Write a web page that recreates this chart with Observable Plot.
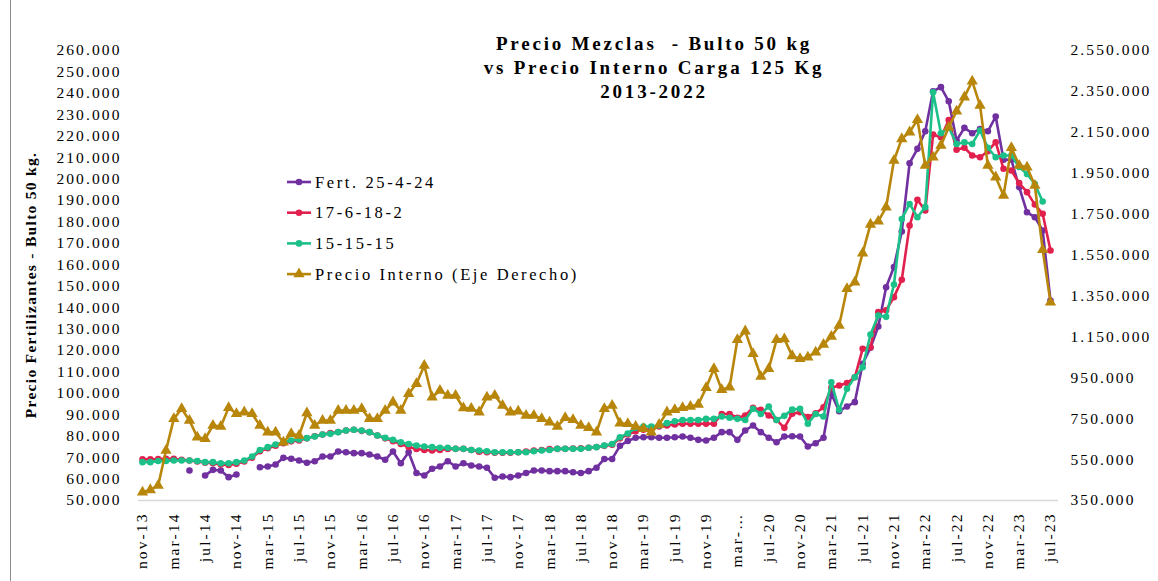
<!DOCTYPE html>
<html><head><meta charset="utf-8">
<script src="https://cdn.jsdelivr.net/npm/d3@7"></script>
<script src="https://cdn.jsdelivr.net/npm/@observablehq/plot@0.6"></script>
<style>
body{margin:0;background:#fff;}
#chart{position:relative;width:1158px;height:581px;}
</style></head><body><div id="chart"></div>
<script>
// ---- categories ----
const monthNames = ["ene","feb","mar","abr","may","jun","jul","ago","sep","oct","nov","dic"];
const months = [];
for (let k = 0; k < 117; k++) { const m = (10 + k) % 12; const y = 13 + Math.floor((10 + k) / 12); months.push(monthNames[m] + "-" + y); }
const tickMonths = months.filter((d, i) => i % 4 === 0);
const tickText = {"mar-20": "mar-…"};
const leftTicks = d3.range(50, 261, 10);          // thousands
const rightTicks = d3.range(350, 2551, 200);      // thousands

// ---- series (thousands of pesos) ----
const fert25424 = [
  null,null,null,null,null,null,64.0,null,61.7,64.3,64.0,60.9,
  62.1,null,null,65.5,65.9,66.8,69.9,69.5,68.7,67.6,68.3,70.5,
  70.5,72.9,72.5,72.1,72.1,71.5,70.5,69.0,72.9,67.4,72.5,62.8,
  61.7,64.8,65.9,68.3,65.9,67.4,66.3,65.9,65.3,60.6,61.2,60.9,
  61.7,62.8,64.0,64.0,63.7,63.7,63.7,63.2,62.8,63.7,65.3,69.4,
  69.4,75.5,77.8,79.3,79.5,79.5,79.3,79.3,79.5,79.9,79.3,78.3,
  78.0,79.3,81.9,81.9,78.3,82.7,85.0,81.9,79.3,77.2,79.9,80.0,
  79.9,75.2,76.7,79.3,99.8,91.7,93.9,95.9,113.8,121.3,131.2,149.5,
  159.0,175.5,207.4,214.1,222.3,241.0,242.9,236.3,218.0,223.9,221.4,223.4,
  222.3,229.2,209.0,209.0,196.2,184.5,182.2,176.0,143.3];
const f176182 = [
  69.2,69.2,69.3,69.5,69.5,69.0,68.7,68.2,67.6,67.4,66.8,66.6,
  67.2,68.2,70.0,73.0,74.4,75.6,76.7,77.6,78.0,79.0,80.0,80.8,
  81.5,82.0,82.7,83.0,82.5,81.9,80.3,79.0,77.7,76.4,75.0,74.0,
  73.6,73.3,73.6,74.0,74.1,74.1,73.6,72.8,72.5,72.3,72.3,72.3,
  72.5,72.8,73.3,73.6,74.0,74.1,74.1,74.3,74.4,74.6,75.0,75.5,
  76.0,79.0,80.8,82.3,83.0,83.4,84.5,85.0,85.5,85.8,85.8,85.8,
  85.8,85.8,90.4,90.4,88.6,89.7,93.3,92.3,89.7,87.6,83.9,90.5,
  91.2,88.9,90.7,93.5,102.6,103.7,104.8,107.5,120.8,121.5,137.9,138.8,
  144.9,153.0,178.3,190.3,185.3,220.8,219.5,227.6,213.7,214.6,211.0,210.2,
  213.0,217.2,204.8,204.0,198.1,193.9,188.1,183.8,166.7];
const f151515 = [
  67.9,67.9,68.4,68.4,68.7,68.7,68.7,68.4,67.9,67.9,67.4,67.4,
  67.9,68.7,70.5,73.6,74.9,76.1,77.2,78.0,78.5,79.1,79.9,80.8,
  81.1,81.9,82.7,83.0,82.7,81.9,80.3,79.3,78.3,77.2,76.4,75.7,
  75.2,74.9,74.6,74.6,74.1,74.1,73.6,73.3,73.0,72.5,72.5,72.5,
  72.5,72.5,73.0,73.3,73.6,74.1,74.1,74.1,74.1,74.6,74.9,75.7,
  76.4,79.5,81.3,83.9,84.5,84.5,85.0,86.1,87.0,87.6,87.6,87.6,
  88.1,88.1,89.2,88.6,88.1,87.6,92.8,90.4,93.9,87.6,89.5,92.4,
  92.8,85.8,90.4,89.2,105.2,92.3,102.1,107.5,112.2,127.5,136.3,135.7,
  150.8,181.4,188.4,182.2,186.9,240.5,221.4,224.2,216.4,217.2,216.4,222.7,
  214.6,210.2,211.0,211.0,205.6,202.4,197.7,189.5,null];
const precioInterno = [
  390.6,402.0,423.3,594.4,749.3,798.2,741.1,659.6,651.6,716.7,711.8,803.1,
  773.8,781.9,773.8,716.7,683.9,683.9,635.0,676.0,668.0,778.0,716.7,741.1,
  741.1,790.0,790.0,790.0,798.2,749.3,749.3,790.0,830.8,790.0,871.6,920.5,
  1010.0,855.0,887.8,863.3,863.3,802.0,800.0,781.9,855.0,863.3,814.4,781.9,
  786.7,765.6,765.6,749.3,732.9,711.8,754.2,744.4,716.7,705.3,683.9,798.2,
  814.4,728.0,725.0,711.8,700.3,684.0,721.6,781.9,793.3,803.1,809.6,819.3,
  900.8,993.6,891.0,903.9,1135.6,1177.9,1067.0,956.2,993.6,1135.6,1140.0,1057.0,
  1042.5,1050.6,1075.0,1112.7,1151.8,1205.6,1385.0,1417.3,1559.0,1700.0,1715.0,1784.0,
  2012.0,2118.0,2151.0,2211.0,1988.0,2028.0,2086.0,2175.0,2253.0,2322.0,2400.0,2281.0,
  1988.0,1931.0,1841.0,2075.0,1988.0,1979.0,1890.0,1576.0,1319.0];

const seriesNames = ["Fert. 25-4-24","17-6-18-2","15-15-15","Precio Interno (Eje Derecho)"];
const colors = ["#7030A0","#E2204E","#1CC089","#B8860B"];

// ---- helpers ----
const serif = "'Liberation Serif','Times New Roman',serif";
const esFmt = d3.formatLocale({decimal:",", thousands:".", grouping:[3], currency:["$",""]}).format(",.0f");
const toLeft = r => 50 + (r - 350) * 210 / 2200;
const toRight = v => 350 + (v - 50) * 2200 / 210;
const rows = (arr, conv = d => d) => arr.map((v, i) => ({month: months[i], value: v == null ? NaN : conv(v)}));

const d0 = rows(fert25424), d1 = rows(f176182), d2 = rows(f151515), d3r = rows(precioInterno, toLeft);
const lw = 2.6, rr = 3.3;

const plot = Plot.plot({
  width: 1158, height: 581,
  marginLeft: 142, marginRight: 108, marginTop: 50, marginBottom: 81,
  style: {fontFamily: serif, fontSize: "15.5px", color: "#000", background: "#fff", overflow: "visible", letterSpacing: "2.1px"},
  x: {type: "point", domain: months, padding: 0},
  y: {domain: [50, 260]},
  marks: [
    Plot.ruleY([50], {stroke: "#d9d9d9", strokeWidth: 1.5, insetLeft: -4, insetRight: -8}),
    Plot.axisY({anchor: "left", ticks: leftTicks, tickFormat: d => esFmt(d * 1000), tickSize: 0, tickPadding: 21, label: null}),
    Plot.axisY({anchor: "right", ticks: rightTicks.map(toLeft), tickFormat: d => esFmt(Math.round(toRight(d)) * 1000), tickSize: 0, tickPadding: 20, label: null}),
    Plot.axisX({ticks: tickMonths, tickFormat: d => tickText[d] ?? d, tickRotate: -90, tickSize: 0, tickPadding: 12, label: null}),
    Plot.line(d0, {x: "month", y: "value", stroke: colors[0], strokeWidth: lw}),
    Plot.dot(d0, {x: "month", y: "value", fill: colors[0], r: rr}),
    Plot.line(d1, {x: "month", y: "value", stroke: colors[1], strokeWidth: lw}),
    Plot.dot(d1, {x: "month", y: "value", fill: colors[1], r: rr}),
    Plot.line(d2, {x: "month", y: "value", stroke: colors[2], strokeWidth: lw}),
    Plot.dot(d2, {x: "month", y: "value", fill: colors[2], r: rr}),
    Plot.line(d3r, {x: "month", y: "value", stroke: colors[3], strokeWidth: lw}),
    Plot.dot(d3r, {x: "month", y: "value", fill: colors[3], symbol: "triangle", r: 4.2})
  ]
});

const svg = d3.select(plot);
// left border line
svg.append("line").attr("x1", 10.5).attr("x2", 10.5).attr("y1", 0).attr("y2", 581).attr("stroke", "#8c8c8c").attr("stroke-width", 1);
// title
const title = ["Precio Mezclas  - Bulto 50 kg", "vs Precio Interno Carga 125 Kg", "2013-2022"];
const tg = svg.append("g").attr("font-family", serif).attr("font-weight", "bold").attr("font-size", 19)
  .attr("letter-spacing", "2.8px").attr("text-anchor", "middle").attr("fill", "#000");
title.forEach((t, k) => tg.append("text").attr("x", 654).attr("y", 50 + k * 24).attr("xml:space", "preserve").style("white-space", "pre").text(t));
// y axis title
svg.append("text").attr("transform", "translate(36,285) rotate(-90)").attr("text-anchor", "middle")
  .attr("font-family", serif).attr("font-weight", "bold").attr("font-size", 15.5).attr("letter-spacing", "1.3px")
  .text("Precio Fertilizantes - Bulto 50 kg.");
// legend
const leg = svg.append("g").attr("font-family", serif).attr("font-size", 16.5).attr("letter-spacing", "2.6px")
  .attr("fill", "#000").attr("text-anchor", "start");
seriesNames.forEach((name, k) => {
  const y = 182 + k * 30.7;
  leg.append("line").attr("x1", 287).attr("x2", 311).attr("y1", y).attr("y2", y).attr("stroke", colors[k]).attr("stroke-width", lw);
  if (k < 3) leg.append("circle").attr("cx", 299).attr("cy", y).attr("r", rr).attr("fill", colors[k]);
  else leg.append("path").attr("d", d3.symbol(d3.symbolTriangle, 4.2 * 4.2 * Math.PI)()).attr("transform", `translate(299,${y})`).attr("fill", colors[k]);
  leg.append("text").attr("x", 315).attr("y", y).attr("dy", "0.35em").attr("text-anchor", "start").text(name);
});

document.getElementById("chart").appendChild(plot);
</script></body></html>
